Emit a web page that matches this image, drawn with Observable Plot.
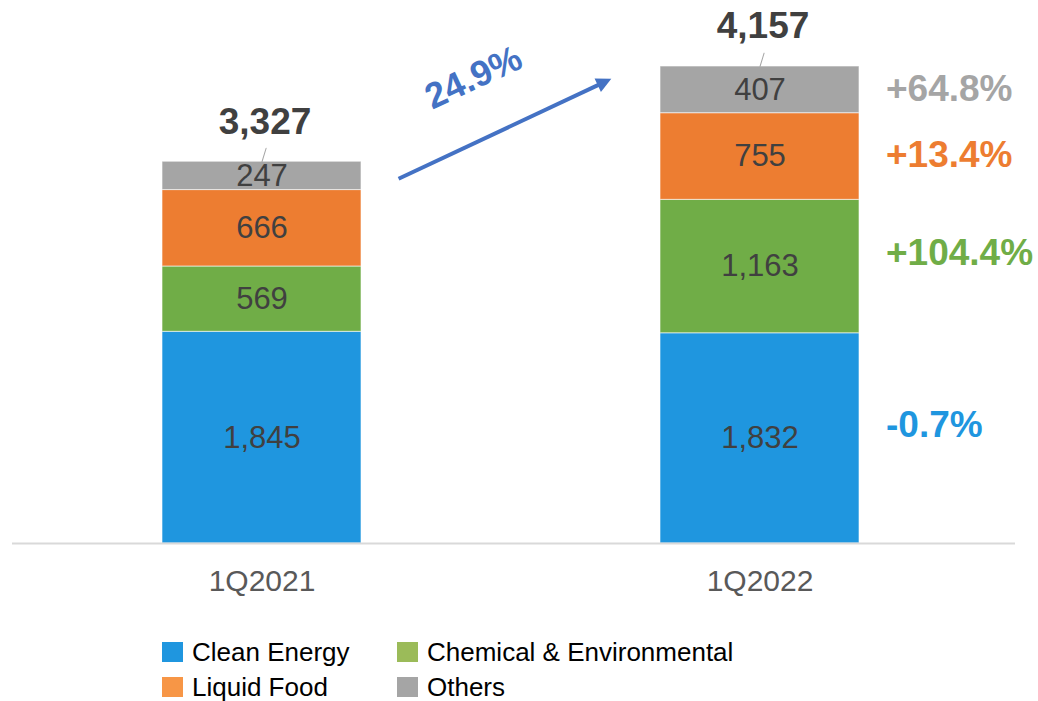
<!DOCTYPE html>
<html>
<head>
<meta charset="utf-8">
<script src="https://cdn.jsdelivr.net/npm/d3@7"></script>
<script src="https://cdn.jsdelivr.net/npm/@observablehq/plot@0.6"></script>
<style>
  body { margin: 0; background: #fff; font-family: "Liberation Sans", Arial, sans-serif; }
  #legend {
    display: grid;
    grid-template-columns: 235px auto;
    grid-auto-rows: 35px;
    padding: 6px 0 0 162px;
  }
  .item { display: flex; align-items: center; font-size: 26px; line-height: 1; color: #000; white-space: nowrap; }
  .swatch { width: 21px; height: 20px; margin-right: 9px; flex: none; }
</style>
</head>
<body>
<div id="chart"></div>
<div id="legend"></div>
<script>
// Revenue by segment, first quarter of each year
const quarters = ["1Q2021", "1Q2022"];
const segments = ["Clean Energy", "Chemical & Environmental", "Liquid Food", "Others"];
const cleanEnergy = [1845, 1832];
const chemicalEnvironmental = [569, 1163];
const liquidFood = [666, 755];
const others = [247, 407];

const barColors = ["#1F96DF", "#70AD47", "#ED7D31", "#A5A5A5"];
const legendColors = ["#1F96DF", "#9BBB59", "#F79646", "#A5A5A5"];
const arrowColor = "#4472C4";

const seriesValues = [cleanEnergy, chemicalEnvironmental, liquidFood, others];

// Long-format table for the stacked bars
const rows = segments.flatMap((segment, i) =>
  quarters.map((quarter, j) => ({quarter, segment, value: seriesValues[i][j]}))
);

// Bar totals
const totals = quarters.map((quarter, j) => ({
  quarter,
  total: d3.sum(seriesValues, (v) => v[j])
}));

// Year-over-year change of each segment, shown beside the latest bar
const growthRows = segments.map((segment, i) => ({
  quarter: quarters[1],
  segment,
  value: seriesValues[i][1],
  growth: seriesValues[i][1] / seriesValues[i][0] - 1
}));
const totalGrowth = totals[1].total / totals[0].total - 1;

const thousands = d3.format(",");
const signedPct = (g) => (g < 0 ? "-" : "+") + Math.abs(g * 100).toFixed(1) + "%";
const plainPct = (g) => (g * 100).toFixed(1) + "%";

// Segments whose change label sits level with the segment centre,
// and those whose label is lifted slightly
const centredGrowth = ["Liquid Food", "Others"];

// Simple vector shapes
const lineShape = {draw(ctx, l) { ctx.moveTo(0, 0); ctx.lineTo(0, -l); }};
const headLength = 15, headHalfWidth = 7.5;
const shaftShape = {draw(ctx, l) { ctx.moveTo(0, 0); ctx.lineTo(0, -(l - headLength + 2)); }};
const headShape = {draw(ctx, l) {
  ctx.moveTo(-headHalfWidth, -(l - headLength));
  ctx.lineTo(0, -l);
  ctx.lineTo(headHalfWidth, -(l - headLength));
  ctx.closePath();
}};

const chart = Plot.plot({
  width: 1038,
  height: 628,
  marginTop: 66,
  marginBottom: 85,
  marginLeft: 12,
  marginRight: 23,
  style: {fontFamily: '"Liberation Sans", Arial, sans-serif', background: "#fff", overflow: "visible"},
  x: {domain: quarters, paddingInner: 0.6, paddingOuter: 0.307, align: 0.49},
  y: {axis: null},
  color: {domain: segments, range: barColors},
  marks: [
    Plot.barY(rows, {
      x: "quarter", y: "value", fill: "segment",
      stroke: "white", strokeOpacity: 0.6, strokeWidth: 1
    }),
    Plot.ruleY([0], {stroke: "#D9D9D9", strokeWidth: 2}),
    Plot.axisX({tickSize: 0, tickPadding: 26, fontSize: 30, color: "#595959", label: null}),

    // values inside each segment
    Plot.text(rows, Plot.stackY({
      x: "quarter", y: "value", z: "segment",
      text: (d) => thousands(d.value),
      fontSize: 31, fill: "#404040"
    })),

    // totals with short leader lines
    Plot.vector(totals, {
      x: "quarter", y: "total", anchor: "start", length: 14, rotate: 17,
      shape: lineShape, stroke: "#A6A6A6", strokeWidth: 1
    }),
    Plot.text(totals, {
      x: "quarter", y: "total", dx: 3, dy: -40,
      text: (d) => thousands(d.total),
      fontSize: 37, fontWeight: "bold", fill: "#404040"
    }),

    // segment changes to the right of the latest bar
    Plot.text(growthRows, Plot.stackY({
      x: "quarter", y: "value", z: "segment",
      text: (d) => centredGrowth.includes(d.segment) ? signedPct(d.growth) : "",
      fill: "segment", dx: 126, dy: -1, textAnchor: "start",
      fontSize: 37, fontWeight: "bold"
    })),
    Plot.text(growthRows, Plot.stackY({
      x: "quarter", y: "value", z: "segment",
      text: (d) => centredGrowth.includes(d.segment) ? "" : signedPct(d.growth),
      fill: "segment", dx: 126, dy: -13, textAnchor: "start",
      fontSize: 37, fontWeight: "bold"
    })),

    // overall growth arrow between the two bars
    Plot.vector([totals[0]], {
      x: "quarter", y: "total", dx: 136.6, dy: 17, anchor: "start",
      length: 235, rotate: 64.85, shape: shaftShape,
      stroke: arrowColor, strokeWidth: 4, strokeLinecap: "butt"
    }),
    Plot.vector([totals[0]], {
      x: "quarter", y: "total", dx: 136.6, dy: 17, anchor: "start",
      length: 235, rotate: 64.85, shape: headShape,
      fill: arrowColor, stroke: "none"
    }),
    Plot.text([totals[0]], {
      x: "quarter", y: "total", dx: 211.6, dy: -84, rotate: -25,
      text: () => plainPct(totalGrowth),
      fontSize: 36, fontWeight: "bold", fill: arrowColor
    })
  ]
});

document.getElementById("chart").append(chart);

// Legend: two rows, two columns
const legend = d3.select("#legend");
segments.forEach((segment, i) => {
  const item = legend.append("div").attr("class", "item");
  item.append("div").attr("class", "swatch").style("background", legendColors[i]);
  item.append("span").text(segment);
});
</script>
</body>
</html>
